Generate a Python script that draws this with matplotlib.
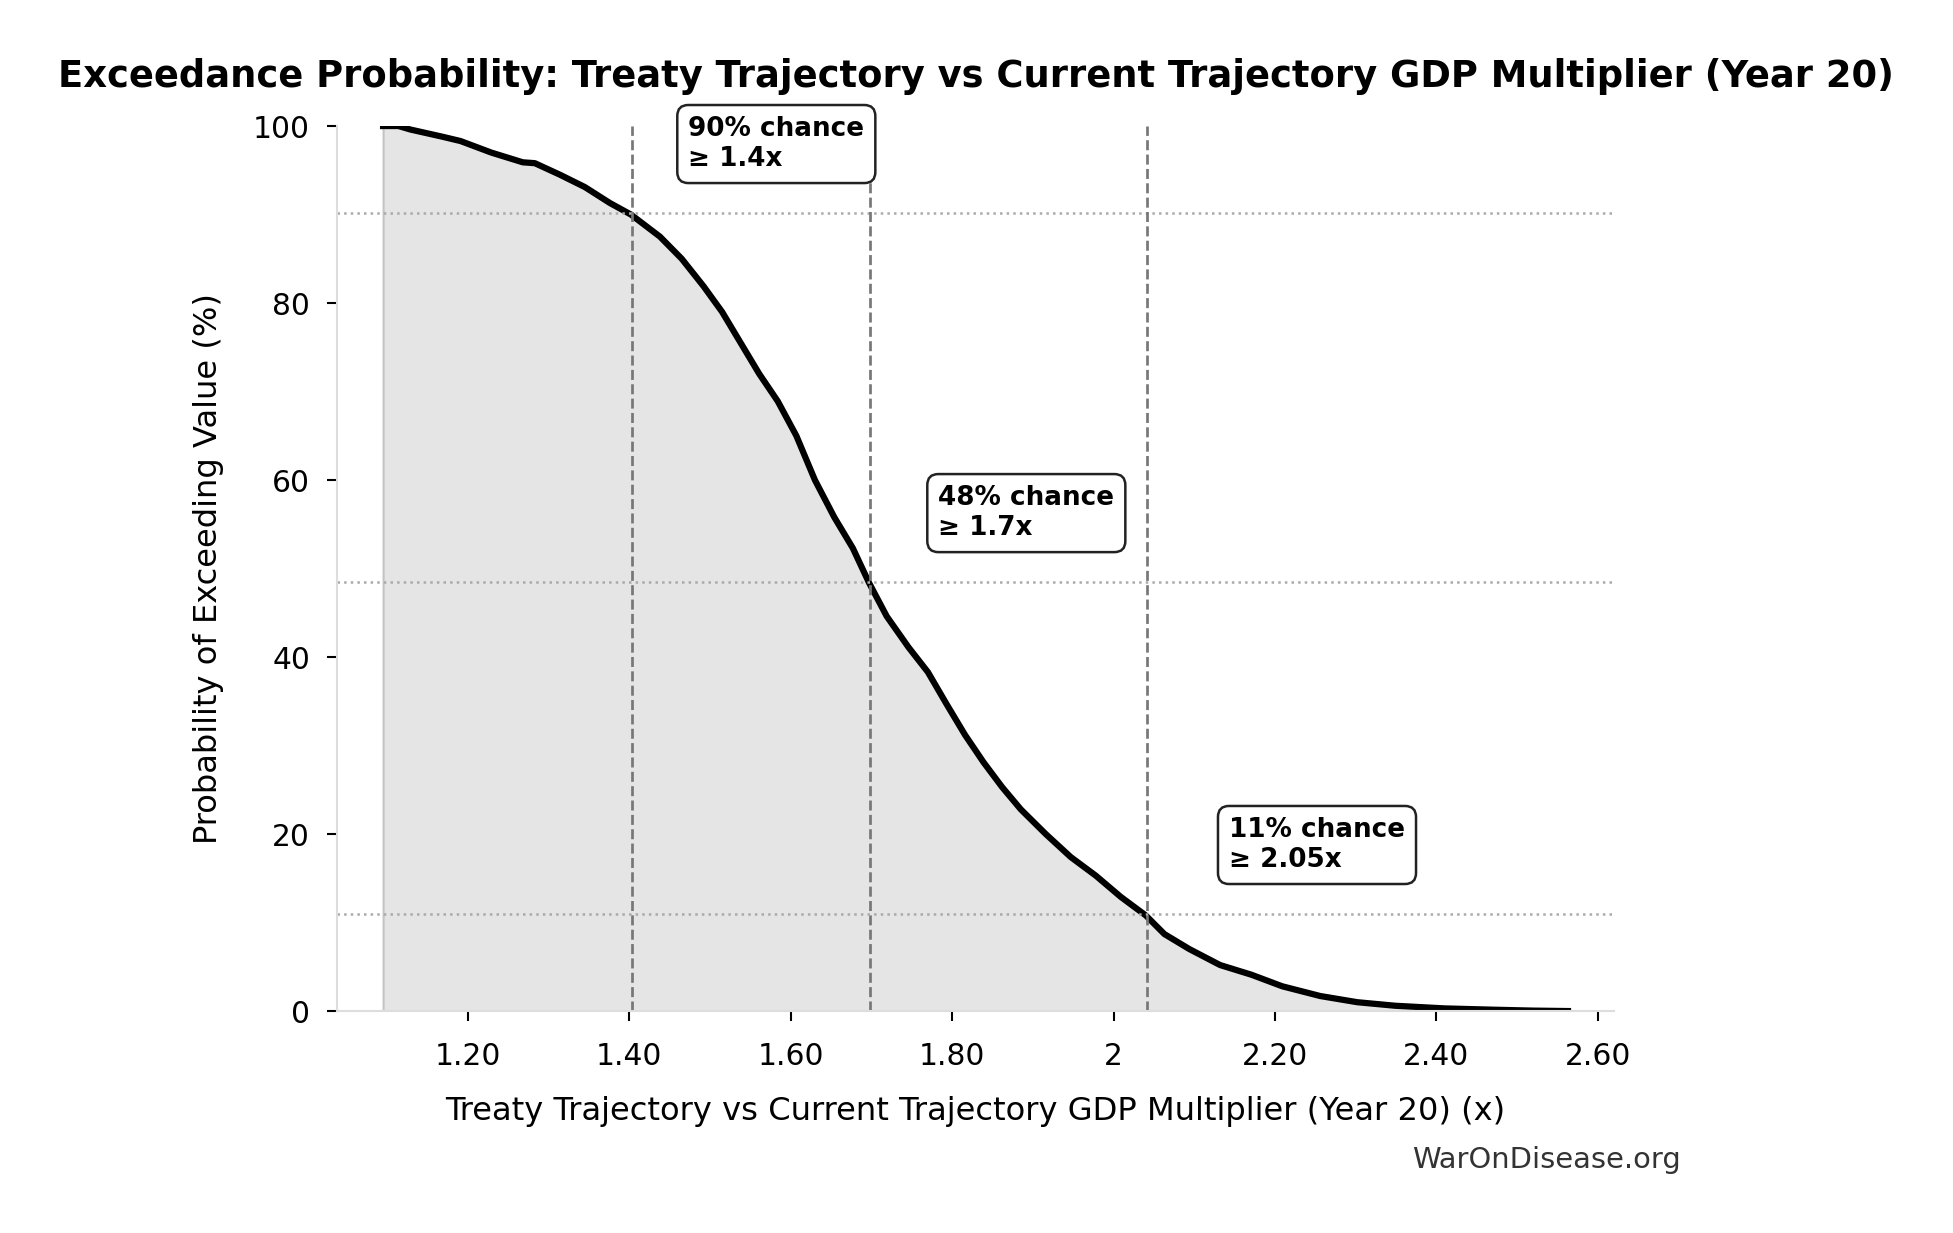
import numpy as np
import matplotlib.pyplot as plt

# exceedance curve
gdp_mult = [1.095, 1.114, 1.129, 1.168, 1.191, 1.229, 1.268, 1.283, 1.314, 1.345,
            1.376, 1.402, 1.438, 1.465, 1.492, 1.515, 1.538, 1.561, 1.584, 1.607,
            1.630, 1.654, 1.677, 1.697, 1.719, 1.746, 1.770, 1.793, 1.816, 1.839,
            1.862, 1.885, 1.916, 1.947, 1.978, 2.009, 2.040, 2.063, 2.094, 2.132,
            2.171, 2.209, 2.256, 2.302, 2.349, 2.410, 2.472, 2.520, 2.563]
exceed_pct = [100.0, 100.0, 99.6, 98.8, 98.3, 97.0, 95.9, 95.8, 94.5, 93.1,
              91.3, 90.0, 87.5, 85.0, 81.9, 79.0, 75.5, 72.0, 68.9, 65.0,
              60.0, 55.8, 52.3, 48.4, 44.6, 41.1, 38.3, 34.7, 31.2, 28.1,
              25.3, 22.8, 20.0, 17.4, 15.3, 12.9, 10.8, 8.7, 7.0, 5.2,
              4.1, 2.8, 1.7, 1.0, 0.6, 0.3, 0.15, 0.05, 0.0]

# marked thresholds
mark_x = [1.403, 1.698, 2.041]
mark_p = [90.2, 48.5, 11.0]
mark_labels = ['90% chance\n≥ 1.4x', '48% chance\n≥ 1.7x', '11% chance\n≥ 2.05x']

xticks = [1.2, 1.4, 1.6, 1.8, 2.0, 2.2, 2.4, 2.6]
xticklabels = ['1.20', '1.40', '1.60', '1.80', '2', '2.20', '2.40', '2.60']

fig = plt.figure(figsize=(13.02, 8.22), dpi=150)
ax = fig.add_axes([0.1726, 0.18, 0.6538, 0.7178])

ax.fill_between(gdp_mult, exceed_pct, 0, facecolor='#e5e5e5', edgecolor='#c4c4c4', linewidth=1)
ax.plot(gdp_mult, exceed_pct, color='black', linewidth=3)

for x, p, lab in zip(mark_x, mark_p, mark_labels):
    ax.axvline(x, color='#777777', linestyle='--', linewidth=1.3)
    ax.axhline(p, color='#aaaaaa', linestyle=':', linewidth=1.2)
    ax.text(x * 1.05, p + 4.6, lab, ha='left', va='bottom', fontsize=12.6, fontweight='bold',
            bbox=dict(boxstyle='round,pad=0.42', facecolor='white', edgecolor='#222222', linewidth=1.2))

ax.set_xlim(1.038, 2.62)
ax.set_ylim(0, 100)
ax.set_xticks(xticks)
ax.set_xticklabels(xticklabels)
ax.set_yticks([0, 20, 40, 60, 80, 100])
ax.tick_params(labelsize=14.3, length=5, width=1, pad=8)
ax.tick_params(axis='x', pad=10)

for s in ['top', 'right']:
    ax.spines[s].set_visible(False)
for s in ['left', 'bottom']:
    ax.spines[s].set_color('#dddddd')
    ax.spines[s].set_linewidth(1)

ax.set_xlabel('Treaty Trajectory vs Current Trajectory GDP Multiplier (Year 20) (x)', fontsize=15.4, labelpad=12)
ax.set_ylabel('Probability of Exceeding Value (%)', fontsize=15.4, labelpad=14)
fig.suptitle('Exceedance Probability: Treaty Trajectory vs Current Trajectory GDP Multiplier (Year 20)',
             fontsize=17.7, fontweight='bold', x=0.4995, y=0.953)
fig.text(0.8605, 0.059, 'WarOnDisease.org', ha='right', va='center', fontsize=13.9, color='#333333')

plt.savefig('out.png', dpi=150)
